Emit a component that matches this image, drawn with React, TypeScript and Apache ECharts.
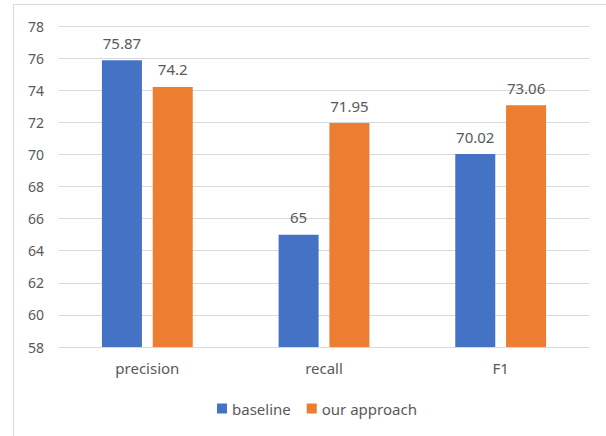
import React, { useEffect, useRef } from "react";
import * as echarts from "echarts";

const categories = ["precision", "recall", "F1"];
const baseline = [75.87, 65, 70.02];
const ourApproach = [74.2, 71.95, 73.06];
const seriesNames = ["baseline", "our approach"];
const yMin = 58;
const yMax = 78;
const yInterval = 2;

const FONT = "'Noto Sans', 'Open Sans', sans-serif";
const TEXT = "#595959";

export default function App() {
  const ref = useRef<HTMLDivElement>(null);
  useEffect(() => {
    document.body.style.margin = "0";
    const chart = echarts.init(ref.current!, null, { renderer: "svg" });
    const label = {
      show: true,
      position: "top",
      distance: 10,
      color: TEXT,
      fontSize: 15,
      fontFamily: FONT,
    };
    chart.setOption({
      animation: false,
      backgroundColor: "#ffffff",
      textStyle: { fontFamily: FONT },
      graphic: [
        {
          type: "rect",
          shape: { x: 13.5, y: 4.5, width: 700, height: 600 },
          style: { fill: "none", stroke: "#D9D9D9", lineWidth: 1 },
          silent: true,
          z: -1,
        },
      ],
      grid: { left: 59, right: 17, top: 26, bottom: 89, containLabel: false },
      legend: {
        data: seriesNames,
        bottom: 15,
        left: 212,
        itemWidth: 10,
        itemHeight: 10,
        itemGap: 16,
        icon: "rect",
        textStyle: { color: TEXT, fontSize: 15, fontFamily: FONT },
      },
      xAxis: {
        type: "category",
        data: categories,
        axisLine: { show: true, lineStyle: { color: "#D9D9D9", width: 1 } },
        axisTick: { show: false },
        axisLabel: { color: TEXT, fontSize: 15, fontFamily: FONT, margin: 13 },
      },
      yAxis: {
        type: "value",
        min: yMin,
        max: yMax,
        interval: yInterval,
        axisLine: { show: false },
        axisTick: { show: false },
        splitLine: { lineStyle: { color: "#D9D9D9", width: 1 } },
        axisLabel: { color: TEXT, fontSize: 14, fontFamily: FONT, margin: 15 },
      },
      series: [
        {
          name: seriesNames[0],
          type: "bar",
          data: baseline,
          barWidth: 40,
          barGap: "27%",
          itemStyle: { color: "#4472C4" },
          label,
        },
        {
          name: seriesNames[1],
          type: "bar",
          data: ourApproach,
          barWidth: 40,
          barGap: "27%",
          itemStyle: { color: "#ED7D31" },
          label,
        },
      ],
    });
    return () => chart.dispose();
  }, []);
  return (
    <div
      ref={ref}
      style={{ position: "absolute", left: 0, top: 0, width: 606, height: 436 }}
    />
  );
}
